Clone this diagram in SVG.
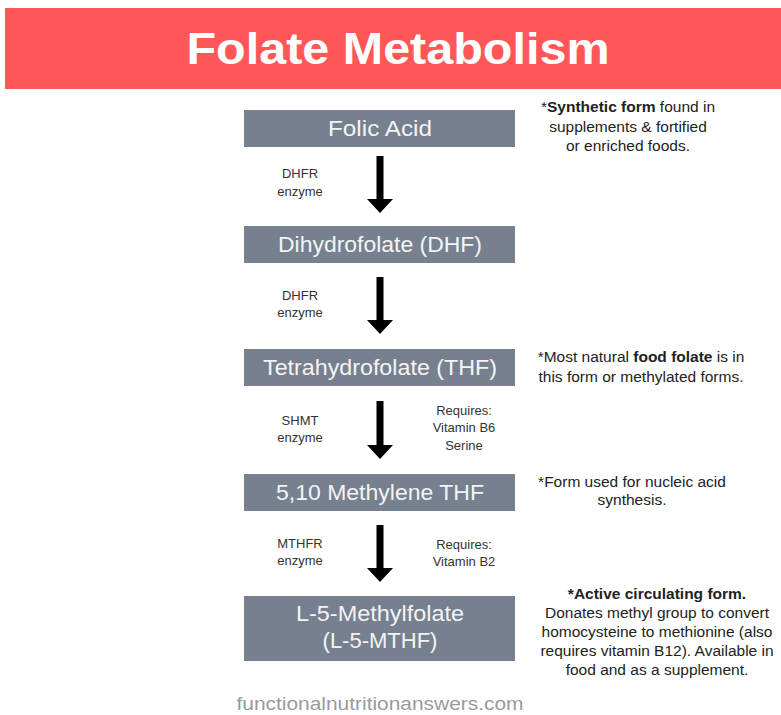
<svg xmlns="http://www.w3.org/2000/svg" width="781" height="715" viewBox="0 0 781 715">
<style>
.box{fill:#76808f}
.bt{font-family:"Liberation Sans",Arial,sans-serif;font-size:22px;fill:#f4f4f4;text-anchor:middle}
.lab{font-family:"Liberation Sans",Arial,sans-serif;font-size:13px;fill:#333;text-anchor:middle}
.note{font-family:"Liberation Sans",Arial,sans-serif;font-size:15.5px;fill:#222;text-anchor:middle}
.arr{fill:#000}
</style>
<rect width="781" height="715" fill="#fff"/>
<g id="title">
<rect x="5" y="8" width="776" height="81" fill="#ff5757"/>
<text x="398" y="64" font-family="'Liberation Sans',Arial,sans-serif" font-weight="bold" font-size="44" fill="#fff" text-anchor="middle" textLength="423" lengthAdjust="spacingAndGlyphs">Folate Metabolism</text>
</g>
<g id="folic">
<rect class="box" x="244" y="110" width="271" height="37"/>
<text class="bt" x="380" y="136" textLength="104" lengthAdjust="spacingAndGlyphs">Folic Acid</text>
</g>
<g id="dhf">
<rect class="box" x="244" y="226" width="271" height="37"/>
<text class="bt" x="380" y="252" textLength="204" lengthAdjust="spacingAndGlyphs">Dihydrofolate (DHF)</text>
</g>
<g id="thf">
<rect class="box" x="244" y="349" width="271" height="37"/>
<text class="bt" x="380" y="375" textLength="234" lengthAdjust="spacingAndGlyphs">Tetrahydrofolate (THF)</text>
</g>
<g id="methylene">
<rect class="box" x="244" y="474" width="271" height="37"/>
<text class="bt" x="380" y="500" textLength="208" lengthAdjust="spacingAndGlyphs">5,10 Methylene THF</text>
</g>
<g id="mthf">
<rect class="box" x="244" y="596" width="271" height="65"/>
<text class="bt" x="380" y="621" textLength="168" lengthAdjust="spacingAndGlyphs">L-5-Methylfolate</text>
<text class="bt" x="380" y="648">(L-5-MTHF)</text>
</g>
<g id="connectors">
<path class="arr" d="M376.5 156 H383.5 V199 H393 L380 213 L367 199 H376.5 Z"/>
<path class="arr" d="M376.5 277 H383.5 V320 H393 L380 334 L367 320 H376.5 Z"/>
<path class="arr" d="M376.5 401 H383.5 V445 H393 L380 459 L367 445 H376.5 Z"/>
<path class="arr" d="M376.5 525 H383.5 V568 H393 L380 582 L367 568 H376.5 Z"/>
</g>
<g id="labels">
<text class="lab" x="300" y="178">DHFR</text>
<text class="lab" x="300" y="196">enzyme</text>
<text class="lab" x="300" y="300">DHFR</text>
<text class="lab" x="300" y="317">enzyme</text>
<text class="lab" x="300" y="425">SHMT</text>
<text class="lab" x="300" y="442">enzyme</text>
<text class="lab" x="464" y="415">Requires:</text>
<text class="lab" x="464" y="432">Vitamin B6</text>
<text class="lab" x="464" y="450">Serine</text>
<text class="lab" x="300" y="548">MTHFR</text>
<text class="lab" x="300" y="565">enzyme</text>
<text class="lab" x="464" y="549">Requires:</text>
<text class="lab" x="464" y="566">Vitamin B2</text>
</g>
<g id="notes">
<text class="note" x="628" y="112"><tspan>*</tspan><tspan font-weight="bold">Synthetic form</tspan> found in</text>
<text class="note" x="628" y="132">supplements &amp; fortified</text>
<text class="note" x="628" y="151">or enriched foods.</text>
<text class="note" x="641" y="362">*Most natural <tspan font-weight="bold">food folate</tspan> is in</text>
<text class="note" x="641" y="382">this form or methylated forms.</text>
<text class="note" x="632" y="487">*Form used for nucleic acid</text>
<text class="note" x="632" y="505">synthesis.</text>
<text class="note" x="657" y="599" font-weight="bold">*Active circulating form.</text>
<text class="note" x="657" y="618">Donates methyl group to convert</text>
<text class="note" x="657" y="637">homocysteine to methionine (also</text>
<text class="note" x="657" y="656">requires vitamin B12). Available in</text>
<text class="note" x="657" y="675">food and as a supplement.</text>
</g>
<text x="380" y="710" font-family="'Liberation Sans',Arial,sans-serif" font-size="18" fill="#9a9a9a" text-anchor="middle" textLength="287" lengthAdjust="spacingAndGlyphs">functionalnutritionanswers.com</text>
</svg>
